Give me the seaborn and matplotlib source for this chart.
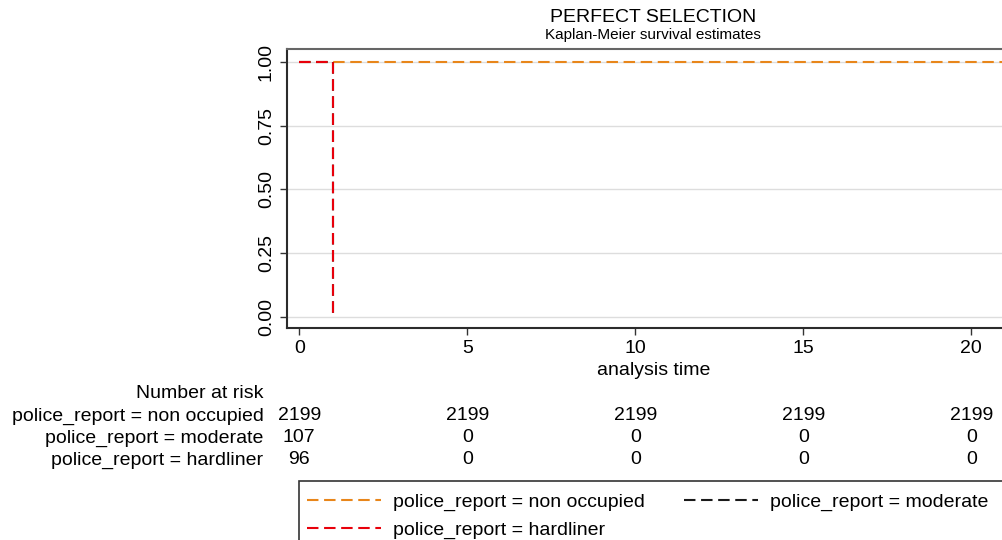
import numpy as np
import pandas as pd
import matplotlib
matplotlib.use("Agg")
import matplotlib.pyplot as plt
import matplotlib.transforms as mtransforms
from matplotlib.patches import Rectangle
import seaborn as sns

# survival curves (step points)
groups = ["police_report = non occupied", "police_report = moderate", "police_report = hardliner"]
time_nonocc = [0, 21.5]
surv_nonocc = [1.0, 1.0]
time_moderate = [0, 1, 1]
surv_moderate = [1.0, 1.0, 0.0]
time_hard = [0, 1, 1]
surv_hard = [1.0, 1.0, 0.0]

# number at risk table
risk_times = [0, 5, 10, 15, 20]
risk_nonocc = [2199, 2199, 2199, 2199, 2199]
risk_moderate = [107, 0, 0, 0, 0]
risk_hard = [96, 0, 0, 0, 0]

colors = {"non occupied": "#e8861a", "moderate": "#1a1a1a", "hardliner": "#e8000b"}
dash = (0, (5.5, 2.7))

sns.set_style("white")
plt.rcParams["font.family"] = ["Liberation Sans", "DejaVu Sans"]
plt.rcParams["text.color"] = "black"
plt.rcParams["axes.labelcolor"] = "black"
plt.rcParams["xtick.color"] = "black"
plt.rcParams["ytick.color"] = "black"

fig = plt.figure(figsize=(10.03, 5.4), dpi=100)
ax = fig.add_axes([286.7 / 1003, 1 - 328 / 540, (1021 - 286.7) / 1003, 279 / 540])

df_n = pd.DataFrame({"t": time_nonocc, "s": surv_nonocc})
df_m = pd.DataFrame({"t": time_moderate, "s": surv_moderate})
df_h = pd.DataFrame({"t": time_hard, "s": surv_hard})

sns.lineplot(data=df_n, x="t", y="s", ax=ax, estimator=None, sort=False,
             color=colors["non occupied"], linestyle=dash, linewidth=1.5, label=groups[0], zorder=3)
sns.lineplot(data=df_m, x="t", y="s", ax=ax, estimator=None, sort=False,
             color=colors["moderate"], linestyle=dash, linewidth=1.5, label=groups[1], zorder=4)
sns.lineplot(data=df_h, x="t", y="s", ax=ax, estimator=None, sort=False,
             color=colors["hardliner"], linestyle=dash, linewidth=1.5, label=groups[2], zorder=5)

handles, labels = ax.get_legend_handles_labels()
ax.get_legend().remove()

ax.set_xlim(-0.375, 21.48)
ax.set_ylim(-0.044, 1.05)
ax.set_xticks([0, 5, 10, 15, 20])
ax.set_yticks([0, 0.25, 0.5, 0.75, 1.0])
ax.set_yticklabels(["0.00", "0.25", "0.50", "0.75", "1.00"])
ax.tick_params(axis="both", labelsize=14, length=5, width=1, color="#333333", direction="out",
               bottom=True, left=True)
ax.tick_params(axis="y", labelrotation=90)
for lab in ax.get_yticklabels():
    lab.set_va("center")
ax.grid(axis="y", color="#dddddd", linewidth=1)
ax.set_axisbelow(True)
ax.set_ylabel("")
ax.set_xlabel("analysis time", fontsize=14, labelpad=4)
for side in ["left", "bottom"]:
    ax.spines[side].set_color("#2b2b2b")
    ax.spines[side].set_linewidth(1.5)
ax.spines["top"].set_color("#666666")
ax.spines["top"].set_linewidth(1.5)
ax.spines["right"].set_visible(False)

# titles
fig.text(653 / 1003, 1 - 18 / 540, "PERFECT SELECTION", fontsize=14, ha="center", va="center")
fig.text(653 / 1003, 1 - 35 / 540, "Kaplan-Meier survival estimates", fontsize=11, ha="center", va="center")

# number at risk
trans = mtransforms.blended_transform_factory(ax.transData, fig.transFigure)
fig.text(263 / 1003, 1 - 393 / 540, "Number at risk", fontsize=14, ha="right", va="center")
rows = [(groups[0], risk_nonocc, 416), (groups[1], risk_moderate, 438), (groups[2], risk_hard, 460)]
for name, vals, py in rows:
    fig.text(263.5 / 1003, 1 - py / 540, name, fontsize=14, ha="right", va="center")
    for t, v in zip(risk_times, vals):
        ax.text(t, 1 - py / 540, str(v), transform=trans, fontsize=14, ha="center", va="center",
                clip_on=False)

# legend
order = [0, 2, 1]
fig.legend([handles[i] for i in order], [labels[i] for i in order], ncol=2,
           loc="upper left", bbox_to_anchor=(307 / 1003, 1 - 493 / 540), frameon=False,
           fontsize=14, borderpad=0, borderaxespad=0, handlelength=3.8, handletextpad=0.62,
           columnspacing=2.0, labelspacing=0.56)
fig.add_artist(Rectangle((299 / 1003, -0.2), 0.8, 0.2 + (1 - 481 / 540), transform=fig.transFigure,
                         fill=False, edgecolor="#333333", linewidth=1.2))

fig.savefig("out.png", dpi=100)
